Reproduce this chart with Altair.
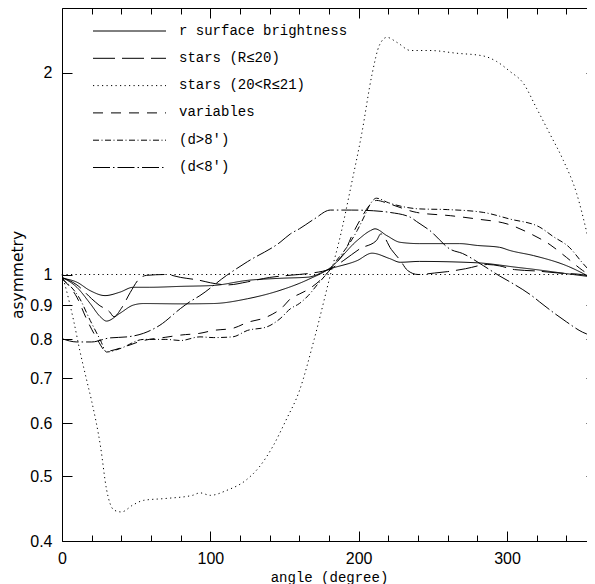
import altair as alt
import pandas as pd

# ---------------- data ----------------
series_names = ["r surface brightness", "stars (R≤20)", "stars (20<R≤21)", "variables",
                "\u00a0\u00a0(d>8')", "\u00a0\u00a0(d<8')"]

# r surface brightness, curve 1 (shallow)
sb1_angle = [0, 10, 19, 29, 39, 48, 59, 80, 102, 125, 147, 166, 181, 199, 209, 221, 228, 241, 280, 295, 302, 318, 340, 360]
sb1_value = [0.987, 0.974, 0.946, 0.93, 0.941, 0.957, 0.957, 0.96, 0.963, 0.98, 0.987, 0.991, 1.02, 1.049, 1.076, 1.056,
             1.043, 1.046, 1.041, 1.033, 1.028, 1.018, 1.003, 0.99]
# r surface brightness, curve 2 (deep)
sb2_angle = [0, 10, 19, 26, 30, 39, 48, 55, 80, 102, 125, 147, 166, 181, 199, 208, 211, 219, 228, 241, 268, 280, 295,
             302, 318, 340, 360]
sb2_value = [0.99, 0.957, 0.905, 0.864, 0.852, 0.875, 0.90, 0.905, 0.904, 0.905, 0.92, 0.947, 0.983, 1.024, 1.124,
             1.163, 1.17, 1.143, 1.117, 1.112, 1.112, 1.105, 1.098, 1.086, 1.067, 1.031, 0.98]
# stars (R<=20)
st20_angle = [0, 10, 20, 25, 32, 35, 40, 46, 52, 57, 70, 80, 93, 100, 112, 125, 140, 155, 167, 181, 190, 201, 212, 215,
              222, 228, 233, 240, 251, 260, 272, 287, 295, 305, 320, 335, 350, 360]
st20_value = [0.99, 0.965, 0.92, 0.9, 0.88, 0.865, 0.89, 0.94, 0.985, 0.997, 1.0, 0.99, 0.98, 0.972, 0.965, 0.975,
              0.99, 0.998, 1.004, 1.02, 1.05, 1.093, 1.124, 1.15, 1.09, 1.05, 1.014, 1.0, 1.005, 1.01, 1.02, 1.035,
              1.03, 1.017, 1.012, 1.005, 1.0, 0.99]
# stars (20<R<=21)
st21_angle = [0, 2, 8, 12, 17, 20, 26, 30, 35, 40, 48, 55, 70, 88, 93, 100, 111, 124, 133, 142, 151, 160, 170, 181,
              188, 195, 202, 209, 214, 219, 226, 235, 248, 266, 284, 293, 302, 311, 320, 329, 338, 347, 354, 360]
st21_value = [1.0, 0.965, 0.85, 0.77, 0.69, 0.647, 0.553, 0.478, 0.445, 0.442, 0.453, 0.46, 0.463, 0.468, 0.472,
              0.468, 0.476, 0.493, 0.516, 0.553, 0.606, 0.67, 0.80, 1.0, 1.15, 1.36, 1.62, 1.99, 2.2, 2.26, 2.22,
              2.16, 2.16, 2.14, 2.12, 2.08, 2.01, 1.93, 1.77, 1.62, 1.48, 1.32, 1.15, 1.0]
# variables
var_angle = [0, 10, 17, 23, 30, 39, 55, 70, 80, 93, 102, 115, 125, 138, 149, 154, 160, 166, 174, 183, 191, 196, 202,
             208, 212, 221, 239, 262, 280, 300, 316, 329, 340, 351, 360]
var_value = [0.986, 0.925, 0.854, 0.806, 0.768, 0.776, 0.797, 0.806, 0.812, 0.817, 0.825, 0.831, 0.848, 0.864, 0.895,
             0.92, 0.935, 0.95, 0.98, 1.03, 1.086, 1.15, 1.217, 1.274, 1.29, 1.274, 1.238, 1.224, 1.21, 1.19, 1.15,
             1.108, 1.061, 1.014, 0.985]
# variables (d>8')
vfar_angle = [0, 12, 19, 26, 30, 39, 55, 70, 80, 93, 102, 115, 125, 138, 147, 154, 160, 166, 172, 178, 185, 192, 199,
              204, 208, 212, 220, 241, 260, 284, 302, 322, 331, 342, 351, 360]
vfar_value = [0.985, 0.92, 0.854, 0.797, 0.766, 0.775, 0.80, 0.80, 0.797, 0.807, 0.805, 0.807, 0.825, 0.835, 0.859,
              0.889, 0.905, 0.93, 0.965, 1.0, 1.049, 1.098, 1.163, 1.224, 1.276, 1.30, 1.28, 1.253, 1.25, 1.238,
              1.21, 1.177, 1.14, 1.098, 1.04, 0.99]
# variables (d<8')
vnear_angle = [0, 10, 20, 32, 44, 55, 66, 80, 86, 93, 111, 125, 147, 154, 160, 170, 181, 195, 210, 221, 235, 239, 248,
               262, 270, 284, 295, 302, 318, 322, 340, 351, 360]
vnear_value = [0.802, 0.793, 0.793, 0.804, 0.807, 0.817, 0.84, 0.89, 0.91, 0.93, 0.997, 1.045, 1.117, 1.15, 1.17,
               1.21, 1.248, 1.248, 1.245, 1.238, 1.217, 1.2, 1.163, 1.09, 1.075, 1.031, 0.995, 0.975, 0.925, 0.91,
               0.85, 0.82, 0.807]

ref_angle = [0, 360]
ref_value = [1, 1]

x_ticks = list(range(0, 361, 20))
y_ticks = [0.4, 0.5, 0.6, 0.7, 0.8, 0.9, 1, 2]

dash_patterns = [[1, 0], [22, 7], [1.2, 3.3], [10, 8], [6, 2.5, 1, 2.5], [17, 3, 1.5, 3]]

curves = [
    (series_names[0], "sb1", sb1_angle, sb1_value),
    (series_names[0], "sb2", sb2_angle, sb2_value),
    (series_names[1], "st20", st20_angle, st20_value),
    (series_names[2], "st21", st21_angle, st21_value),
    (series_names[3], "var", var_angle, var_value),
    (series_names[4], "vfar", vfar_angle, vfar_value),
    (series_names[5], "vnear", vnear_angle, vnear_value),
]
rows = []
for name, cid, xs, ys in curves:
    for a, v in zip(xs, ys):
        rows.append({"angle": a, "asym": v, "series": name, "curve": cid})
df = pd.DataFrame(rows)
ref_df = pd.DataFrame({"angle": ref_angle, "asym": ref_value})

x_scale = alt.Scale(domain=[0, 360], nice=False, zero=False)
y_scale = alt.Scale(type="log", domain=[0.4, 2.5], nice=False)

xtick_size = alt.ExprRef(expr="datum.value % 100 === 0 ? -10 : -6")

lines = alt.Chart(df).mark_line(color="black", strokeWidth=1, interpolate="monotone").encode(
    x=alt.X("angle:Q", scale=x_scale, title="angle (degree)",
            axis=alt.Axis(orient="bottom", values=x_ticks, tickSize=xtick_size,
                          labelExpr="datum.value % 100 === 0 ? datum.label : ''",
                          labelPadding=19, labelFont="Liberation Sans", labelFontSize=16,
                          titleFont="Liberation Mono", titleFontSize=14, titleFontWeight="normal",
                          titlePadding=0)),
    y=alt.Y("asym:Q", scale=y_scale, title="asymmetry",
            axis=alt.Axis(orient="left", values=y_ticks, format="~g", tickSize=alt.ExprRef(expr="-10"),
                          labelPadding=20, labelFont="Liberation Sans", labelFontSize=16,
                          titleFont="DejaVu Sans", titleFontSize=15.5, titleFontWeight="normal",
                          titlePadding=4)),
    strokeDash=alt.StrokeDash("series:N",
                              scale=alt.Scale(domain=series_names, range=dash_patterns),
                              legend=alt.Legend(orient="none", legendX=57, legendY=16, title=None,
                                                symbolType="M-3.65,-0.35H3.65", symbolSize=400,
                                                symbolStrokeWidth=1, symbolStrokeColor="black",
                                                labelFont="Liberation Mono", labelFontSize=14,
                                                labelColor="black", labelOffset=39,
                                                labelBaseline="alphabetic", labelLimit=400,
                                                rowPadding=12.3, padding=0)),
    detail="curve:N",
)

ref = alt.Chart(ref_df).mark_line(color="black", strokeWidth=1, strokeDash=[1.2, 3.3]).encode(
    x=alt.X("angle:Q", scale=x_scale, title=None,
            axis=alt.Axis(orient="top", values=x_ticks, tickSize=xtick_size, labels=False)),
    y=alt.Y("asym:Q", scale=y_scale, title=None,
            axis=alt.Axis(orient="right", values=y_ticks, tickSize=alt.ExprRef(expr="-10"), labels=False)),
)

chart = alt.layer(lines, ref).resolve_axis(x="independent", y="independent").properties(
    width=534, height=533,
    autosize=alt.AutoSizeParams(type="none"),
    padding={"left": 54, "top": 0, "right": -9, "bottom": 43},
).configure_view(strokeWidth=0).configure_axis(
    grid=False, domainColor="black", tickColor="black", labelColor="black", titleColor="black",
    domainWidth=1, tickWidth=1, labelOverlap=False, labelFlush=False,
)

chart.save("out.html", embed_options={"renderer": "svg", "actions": False})
